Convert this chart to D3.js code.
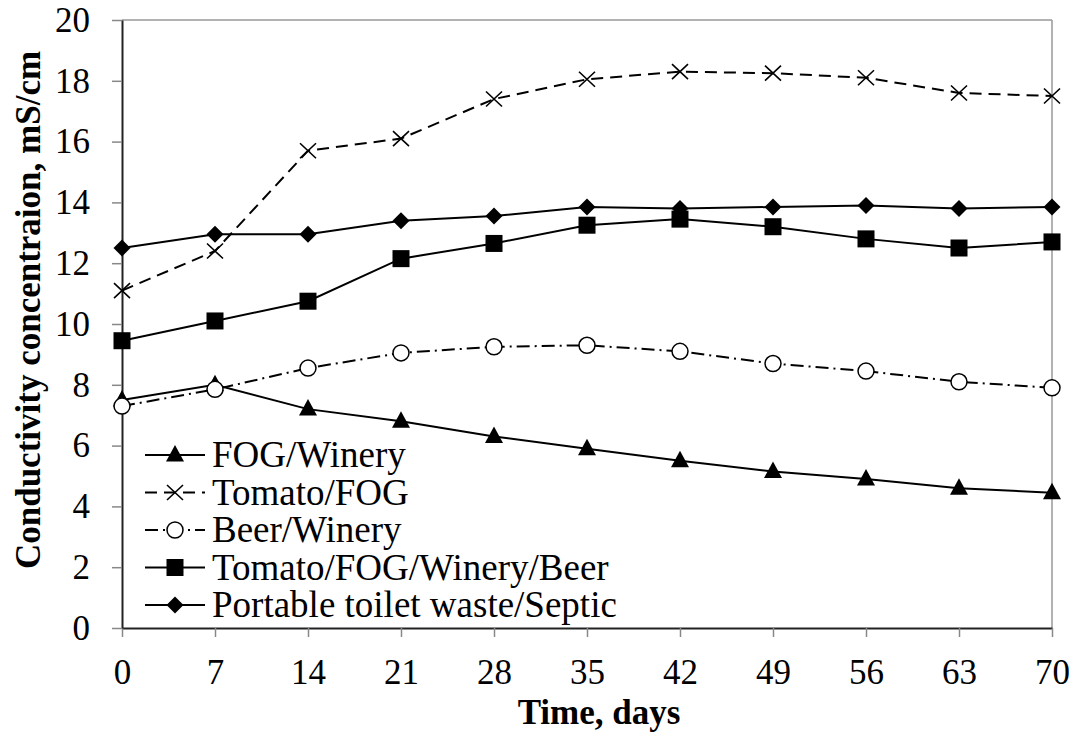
<!DOCTYPE html>
<html lang="en">
<meta charset="utf-8">
<title>Conductivity concentration</title>
<script src="https://d3js.org/d3.v7.min.js"></script>
<body>
<div id="chart"></div>
</body>
<style>
body { margin: 0; background: white; }
</style>
<script>
// data
const days = [0, 7, 14, 21, 28, 35, 42, 49, 56, 63, 70];
const yTicks = [0, 2, 4, 6, 8, 10, 12, 14, 16, 18, 20];
const seriesNames = ["FOG/Winery", "Tomato/FOG", "Beer/Winery", "Tomato/FOG/Winery/Beer", "Portable toilet waste/Septic"];
const fogWinery = [7.5, 8.0, 7.2, 6.8, 6.3, 5.9, 5.5, 5.15, 4.9, 4.6, 4.45];
const tomatoFog = [11.1, 12.4, 15.7, 16.1, 17.4, 18.05, 18.3, 18.25, 18.1, 17.6, 17.5];
const beerWinery = [7.3, 7.85, 8.55, 9.05, 9.25, 9.3, 9.1, 8.7, 8.45, 8.1, 7.9];
const mixAll = [9.45, 10.1, 10.75, 12.15, 12.65, 13.25, 13.45, 13.2, 12.8, 12.5, 12.7];
const toiletSeptic = [12.5, 12.95, 12.95, 13.4, 13.55, 13.85, 13.8, 13.85, 13.9, 13.8, 13.85];

const FONT = "Liberation Serif";

const W = 1076, H = 737;
const margin = {top: 20, right: 24, bottom: 109, left: 122};
const width = W - margin.left - margin.right,
      height = H - margin.top - margin.bottom;

const svg = d3.select("#chart").append("svg")
    .attr("width", W).attr("height", H)
  .append("g")
    .attr("transform", "translate(" + margin.left + "," + margin.top + ")");

const x = d3.scaleLinear().domain([0, 70]).range([0, width]);
const y = d3.scaleLinear().domain([0, 20]).range([height, 0]);

// frame (top + right in gray)
svg.append("line").attr("x1", 0).attr("x2", width).attr("y1", 0).attr("y2", 0)
  .attr("stroke", "#999").attr("stroke-width", 1.5);
svg.append("line").attr("x1", width).attr("x2", width).attr("y1", 0).attr("y2", height)
  .attr("stroke", "#999").attr("stroke-width", 1.5);

// axes
const xAxis = svg.append("g")
  .attr("transform", "translate(0," + height + ")")
  .call(d3.axisBottom(x).tickValues(days).tickSize(9).tickPadding(22).tickSizeOuter(0));
const yAxis = svg.append("g")
  .call(d3.axisLeft(y).tickValues(yTicks).tickSize(10).tickPadding(22).tickSizeOuter(0));
[xAxis, yAxis].forEach(a => {
  a.attr("font-family", FONT).attr("font-size", 35);
  a.selectAll(".tick text").attr("fill", "black");
  a.selectAll(".tick line").attr("stroke", "#888").attr("stroke-width", 1.5);
  a.select(".domain").attr("stroke", "#222").attr("stroke-width", 2);
});

svg.append("text")
  .attr("font-family", FONT).attr("font-size", 35).attr("font-weight", "bold")
  .attr("x", width / 2 + 12).attr("y", height + 96)
  .attr("text-anchor", "middle").text("Time, days");
svg.append("text")
  .attr("font-family", FONT).attr("font-size", 35).attr("font-weight", "bold")
  .attr("transform", "rotate(-90)")
  .attr("x", -(height / 2) + 14).attr("y", -82)
  .attr("text-anchor", "middle").text("Conductivity concentraion, mS/cm");

// series definitions
const series = [
  {name: seriesNames[0], values: fogWinery, dash: null, marker: "triangle"},
  {name: seriesNames[1], values: tomatoFog, dash: "12,7", marker: "cross"},
  {name: seriesNames[2], values: beerWinery, dash: "13,5,2,5", marker: "circle"},
  {name: seriesNames[3], values: mixAll, dash: null, marker: "square"},
  {name: seriesNames[4], values: toiletSeptic, dash: null, marker: "diamond"}
];

function drawMarker(g, type, cx, cy) {
  if (type === "triangle") {
    g.append("path").attr("d", "M" + cx + "," + (cy - 10) + " L" + (cx + 9) + "," + (cy + 6.5) + " L" + (cx - 9) + "," + (cy + 6.5) + "Z")
      .attr("fill", "black");
  } else if (type === "cross") {
    g.append("path").attr("d", "M" + (cx - 8) + "," + (cy - 7.5) + " L" + (cx + 8) + "," + (cy + 7.5) + " M" + (cx + 8) + "," + (cy - 7.5) + " L" + (cx - 8) + "," + (cy + 7.5))
      .attr("stroke", "black").attr("stroke-width", 1.6).attr("fill", "none");
  } else if (type === "circle") {
    g.append("circle").attr("cx", cx).attr("cy", cy).attr("r", 8)
      .attr("fill", "white").attr("stroke", "black").attr("stroke-width", 1.5);
  } else if (type === "square") {
    g.append("rect").attr("x", cx - 8.5).attr("y", cy - 8.5).attr("width", 17).attr("height", 17)
      .attr("fill", "black");
  } else if (type === "diamond") {
    g.append("path").attr("d", "M" + cx + "," + (cy - 8.5) + " L" + (cx + 8.5) + "," + cy + " L" + cx + "," + (cy + 8.5) + " L" + (cx - 8.5) + "," + cy + "Z")
      .attr("fill", "black");
  }
}

const line = d3.line().x((d, i) => x(days[i])).y(d => y(d));

series.forEach(s => {
  const g = svg.append("g");
  g.append("path").datum(s.values)
    .attr("d", line)
    .attr("fill", "none").attr("stroke", "black").attr("stroke-width", 2)
    .attr("stroke-dasharray", s.dash);
  s.values.forEach((v, i) => drawMarker(g, s.marker, x(days[i]), y(v)));
});

// legend
const legend = svg.append("g").attr("transform", "translate(23, 435)");
series.forEach((s, i) => {
  const ly = i * 37.5;
  const g = legend.append("g");
  g.append("line").attr("x1", 0).attr("x2", 60).attr("y1", ly).attr("y2", ly)
    .attr("stroke", "black").attr("stroke-width", 2).attr("stroke-dasharray", s.dash);
  drawMarker(g, s.marker, 30, ly);
  g.append("text")
    .attr("font-family", FONT).attr("font-size", 37)
    .attr("x", 67).attr("y", ly).attr("dy", "0.33em").text(s.name);
});
</script>
</html>
